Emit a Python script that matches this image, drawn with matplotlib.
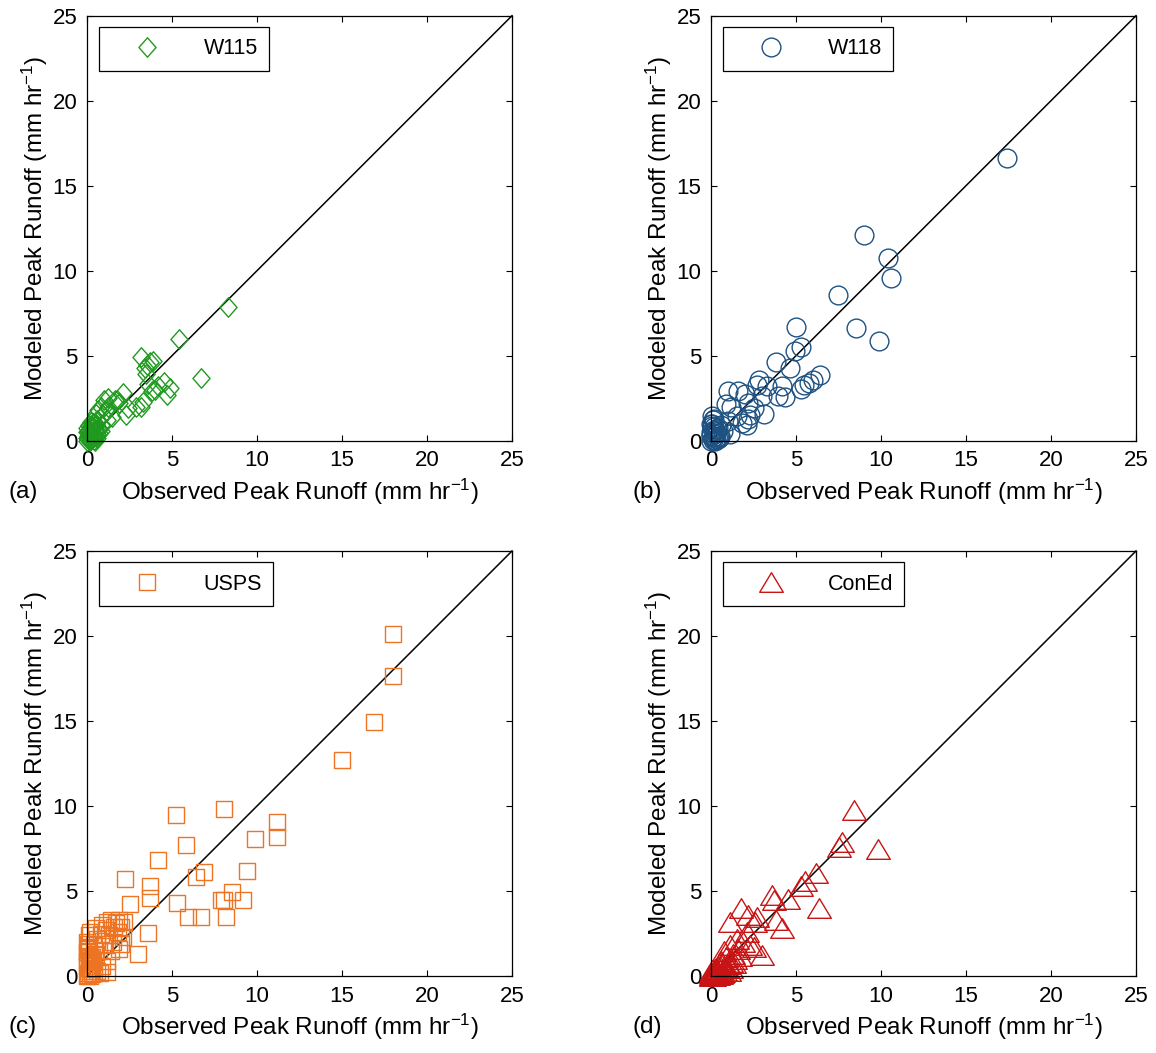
import matplotlib
matplotlib.use("Agg")
import matplotlib.pyplot as plt
from matplotlib.path import Path
import numpy as np

plt.rcParams['font.family'] = ['Liberation Sans', 'DejaVu Sans']
plt.rcParams['mathtext.fontset'] = 'custom'
plt.rcParams['mathtext.rm'] = 'Liberation Sans'
plt.rcParams['mathtext.it'] = 'Liberation Sans:italic'
plt.rcParams['mathtext.bf'] = 'Liberation Sans:bold'
plt.rcParams['mathtext.default'] = 'regular'

# ---------------- data ----------------
w115_obs = [8.3, 5.4, 6.7, 3.2, 3.7, 3.4, 3.5, 3.9, 4.5, 4.7, 4.2, 4.9, 3.8, 3.6, 3.3, 3.2,
            2.4, 2.3, 2.1, 1.75, 1.65, 1.25, 1.0, 1.25, 1.45, 0.8, 0.5, 0.95, 0.6, 0.3, 0.1,
            0.0, 0.2, 0.45, 0.85, 1.15, 0.0, 0.05, 0.15, 0.3, 0.4, 0.6, 0.7, 0.25, 0.1, 0.0,
            0.5, 0.35, 1.9, 2.9, 3.45, 4.0, 1.1, 0.65, 0.2, 0.05,
            0.0, 0.1, 0.2, 0.3, 0.4, 0.5, 0.6, 0.7, 0.8, 0.15, 0.35, 0.55, 0.05, 0.25, 0.45]
w115_mod = [7.85, 6.0, 3.7, 4.9, 4.65, 4.25, 4.45, 4.7, 3.45, 2.7, 3.2, 3.1, 2.9, 3.35, 2.3, 2.0,
            1.9, 1.5, 2.8, 2.4, 2.4, 2.5, 2.4, 2.0, 1.4, 2.0, 1.6, 1.5, 1.2, 0.85, 0.45,
            0.15, 0.25, 0.65, 0.9, 1.2, 0.0, 0.3, 0.05, 0.5, 0.2, 0.4, 0.7, 0.1, 0.6, 0.5,
            0.95, 1.05, 2.2, 2.0, 3.9, 3.0, 1.75, 1.8, 0.8, 0.55,
            0.75, 0.9, 0.0, 0.2, 0.05, 0.3, 0.15, 0.45, 0.6, 0.35, 0.8, 1.0, 0.1, 1.1, 0.0]

w118_obs = [17.4, 9.0, 10.4, 10.6, 7.45, 8.5, 9.9, 5.0, 5.3, 4.95, 3.8, 4.65, 6.4, 6.0, 5.75,
            5.45, 5.3, 4.2, 3.95, 4.35, 2.8, 2.7, 3.3, 3.0, 3.1, 2.2, 2.1, 1.6, 1.0, 2.0, 0.9,
            1.2, 2.2, 2.5, 1.5, 1.8, 1.0, 2.3, 0.05, 0.0, 0.15, 0.7, 1.1, 0.5, 0.0, 0.1, 0.3,
            0.2, 0.4, 0.6, 0.0, 0.1, 0.25, 0.35, 0.05, 0.15, 0.45, 0.0,
            0.0, 0.1, 0.2, 0.3, 0.05, 0.15, 0.25, 0.4, 0.55]
w118_mod = [16.65, 12.1, 10.75, 9.6, 8.6, 6.65, 5.85, 6.7, 5.5, 5.3, 4.65, 4.3, 3.85, 3.6, 3.4,
            3.25, 3.05, 3.2, 2.65, 2.55, 3.6, 3.3, 3.2, 2.65, 1.6, 1.3, 0.9, 2.95, 2.95, 2.75, 2.15,
            2.0, 2.2, 1.95, 1.45, 1.05, 1.15, 1.5, 1.45, 1.0, 0.6, 0.6, 0.4, 0.3, 0.0, 0.2, 0.45,
            0.8, 0.1, 0.9, 0.35, 1.2, 0.05, 0.7, 1.0, 1.3, 0.15, 0.5,
            0.25, 0.05, 0.65, 0.1, 0.85, 0.4, 0.0, 0.75, 0.2]

usps_obs = [18.0, 18.0, 16.9, 15.0, 11.15, 11.15, 9.9, 8.05, 5.25, 5.8, 4.15, 6.4, 6.9, 2.25,
            3.7, 3.7, 2.5, 5.3, 5.95, 6.7, 7.9, 8.05, 8.55, 9.2, 8.2, 9.4, 3.6, 3.0, 1.15,
            0.0, 0.05, 0.1, 0.0, 0.1, 0.05, 0.0, 0.1, 0.2, 0.3, 0.4, 0.5, 0.6, 0.7, 0.8, 0.9,
            1.0, 1.1, 1.2, 1.3, 1.4, 1.5, 1.6, 1.7, 1.8, 1.9, 2.0, 2.1, 2.2, 1.9, 2.0, 1.4,
            1.2, 0.9, 0.6, 0.3, 0.15, 0.25, 0.05, 0.4, 0.0, 0.2, 0.35, 0.55, 0.75,
            0.0, 0.1, 0.2, 0.3, 0.0, 0.15, 0.25, 0.05, 0.4]
usps_mod = [20.1, 17.65, 14.95, 12.7, 9.05, 8.2, 8.05, 9.85, 9.45, 7.7, 6.85, 5.85, 6.1, 5.7,
            5.3, 4.6, 4.25, 4.3, 3.5, 3.5, 4.45, 4.45, 4.95, 4.5, 3.5, 6.15, 2.55, 1.3, 0.25,
            0.0, 0.2, 0.5, 0.9, 1.2, 1.6, 2.0, 2.4, 2.6, 1.0, 1.8, 2.8, 2.2, 1.5, 2.5, 3.0,
            1.9, 2.7, 3.2, 2.4, 3.3, 2.0, 2.9, 3.1, 2.6, 3.3, 2.9, 2.3, 3.2, 1.6, 1.9, 1.5,
            0.9, 0.6, 0.3, 0.1, 0.7, 0.4, 0.05, 0.5, 1.4, 1.1, 0.8, 1.3, 0.2,
            1.4, 1.7, 0.3, 1.1, 0.6, 0.0, 0.85, 1.9, 0.15]

coned_obs = [8.4, 9.8, 7.7, 7.5, 6.2, 5.5, 5.3, 6.35, 3.6, 3.7, 4.55, 1.75, 2.2, 2.7, 2.6, 1.1,
             3.8, 4.2, 3.0, 2.5, 2.1, 1.5, 2.3, 1.1, 0.75, 0.5, 0.3, 0.1, 0.0, 0.2, 0.4, 0.6,
             0.9, 1.3, 1.6, 1.9, 0.05, 0.15, 0.35, 0.8, 1.0, 1.4, 0.25, 0.55, 0.7, 1.2, 1.7,
             0.0, 0.45, 0.9, 0.1, 0.3, 0.6, 0.05, 1.05,
             0.2, 0.4, 0.65, 0.85, 1.15, 1.35, 0.3, 0.5, 0.75, 0.0, 0.15]
coned_mod = [9.75, 7.45, 7.9, 7.6, 6.05, 5.6, 5.3, 4.0, 4.75, 4.5, 4.55, 4.0, 3.6, 3.45, 3.15, 3.15,
             3.3, 2.8, 1.25, 1.7, 2.6, 2.2, 1.8, 1.8, 1.5, 0.85, 0.5, 0.2, 0.0, 0.3, 0.6, 0.9,
             1.1, 1.3, 1.6, 2.0, 0.1, 0.05, 0.25, 0.55, 0.7, 1.0, 0.4, 0.35, 0.25, 0.8, 1.2,
             0.15, 0.15, 0.45, 0.05, 0.15, 0.1, 0.35, 0.3,
             0.0, 0.05, 0.2, 0.3, 0.5, 0.75, 0.3, 0.6, 0.45, 0.05, 0.2]

site_names = ['W115', 'W118', 'USPS', 'ConEd']
panel_tags = ['(a)', '(b)', '(c)', '(d)']
ticks = [0, 5, 10, 15, 20, 25]
one_to_one = [0, 25]

# ---------------- styles ----------------
diamond = Path([(0, 1), (0.88, 0), (0, -1), (-0.88, 0), (0, 1)],
               [Path.MOVETO, Path.LINETO, Path.LINETO, Path.LINETO, Path.CLOSEPOLY])
triangle = Path([(0, 0.83), (1, -0.83), (-1, -0.83), (0, 0.83)],
                [Path.MOVETO, Path.LINETO, Path.LINETO, Path.CLOSEPOLY])

series = [
    (w115_obs, w115_mod, '#1f9a1f', diamond, 14.0),
    (w118_obs, w118_mod, '#1d5282', 'o', 13.5),
    (usps_obs, usps_mod, '#ec7422', 's', 11.5),
    (coned_obs, coned_mod, '#c81414', triangle, 17.0),
]

W, H = 1156, 1053
fig = plt.figure(figsize=(W / 100, H / 100), dpi=100)

lefts = [87, 711, 87, 711]
bottoms = [440.7, 440.7, 976, 976]
size = 425

xlab = r'Observed Peak Runoff (mm hr$^{-1}$)'
ylab = r'Modeled Peak Runoff (mm hr$^{-1}$)'

for i, (xs, ys, col, mk, ms) in enumerate(series):
    ax = fig.add_axes([lefts[i] / W, 1 - bottoms[i] / H, size / W, size / H])
    ax.plot(one_to_one, one_to_one, color='black', lw=1.1, zorder=1)
    ax.plot(xs, ys, linestyle='none', marker=mk, markersize=ms,
            markerfacecolor='none', markeredgecolor=col, markeredgewidth=1.0,
            label=site_names[i], zorder=2)
    ax.set_xlim(0, 25)
    ax.set_ylim(0, 25)
    ax.set_xticks(ticks)
    ax.set_yticks(ticks)
    ax.tick_params(direction='in', top=True, right=True, length=4, width=0.8,
                   labelsize=16, pad=7)
    for sp in ax.spines.values():
        sp.set_linewidth(0.9)
    ax.set_xlabel(xlab, fontsize=17.5, labelpad=4)
    ax.set_ylabel(ylab, fontsize=17.5, labelpad=2)
    for ln in ax.lines:
        ln.set_clip_on(False)
    leg = ax.legend(loc='upper left', bbox_to_anchor=(0.028, 0.973), fontsize=15.5,
                    frameon=True, fancybox=False, edgecolor='black', framealpha=1,
                    handlelength=3.4, handletextpad=0.95, borderpad=0.52,
                    borderaxespad=0.0, numpoints=1)
    leg.get_frame().set_linewidth(0.9)
    xl = ax.xaxis.label
    fig.canvas.draw()
    bb = xl.get_window_extent()
    yc = (bb.y0 + bb.y1) / 2 / H
    fig.text((lefts[i] - 79) / W, yc, panel_tags[i], fontsize=17.5, ha='left', va='center')

fig.savefig('out.png', dpi=100)
